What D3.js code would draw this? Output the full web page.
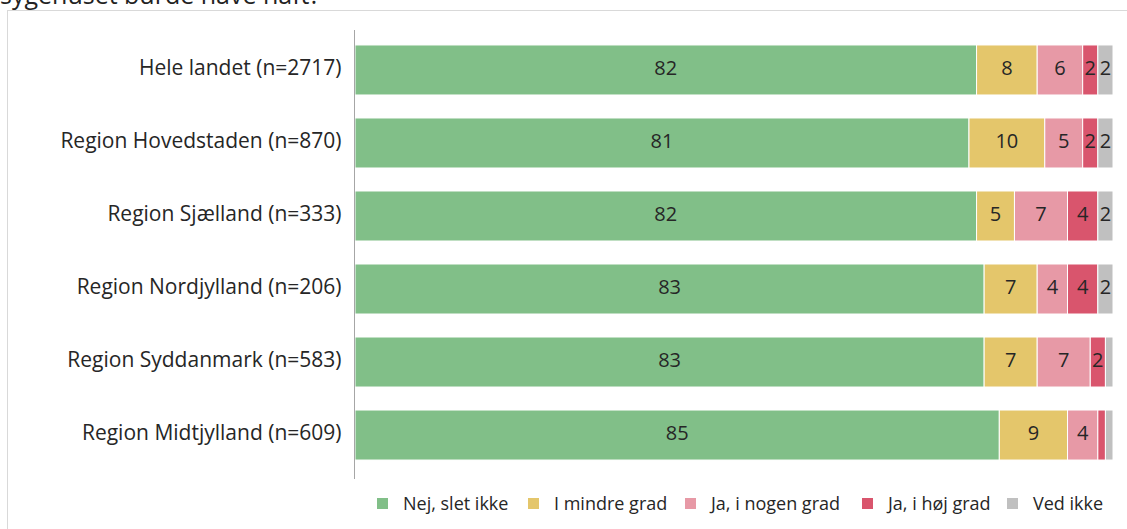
<!DOCTYPE html>
<html>
<head>
<meta charset="utf-8">
<script src="https://cdn.jsdelivr.net/npm/d3@7"></script>
<style>
  body { margin: 0; background: #fff; }
  svg { display: block; font-family: "Open Sans", sans-serif; }
</style>
</head>
<body>
<div id="chart"></div>
<script>
var categories = ["Hele landet (n=2717)", "Region Hovedstaden (n=870)", "Region Sjælland (n=333)",
                  "Region Nordjylland (n=206)", "Region Syddanmark (n=583)", "Region Midtjylland (n=609)"];
var seriesNames = ["Nej, slet ikke", "I mindre grad", "Ja, i nogen grad", "Ja, i høj grad", "Ved ikke"];
var nejSletIkke = [82, 81, 82, 83, 83, 85];
var iMindreGrad = [8, 10, 5, 7, 7, 9];
var jaINogenGrad = [6, 5, 7, 4, 7, 4];
var jaIHoejGrad = [2, 2, 4, 4, 2, 1];
var vedIkke = [2, 2, 2, 2, 1, 1];
var colors = ["#81bf88", "#e4c66b", "#e799a6", "#d9556d", "#c0c0c0"];

var width = 1127, height = 529;
var margin = { top: 30, right: 14, bottom: 54, left: 355 };

var seriesValues = [nejSletIkke, iMindreGrad, jaINogenGrad, jaIHoejGrad, vedIkke];
var rows = categories.map(function(c, i) {
  var r = { cat: c };
  seriesNames.forEach(function(s, j) { r[s] = seriesValues[j][i]; });
  return r;
});

var stack = d3.stack().keys(seriesNames)(rows);

var x = d3.scaleLinear().domain([0, 100]).range([margin.left, width - margin.right]);
var y = d3.scaleBand().domain(categories).range([margin.top, height - margin.bottom])
  .paddingInner(0.315).paddingOuter(0.205);

var svg = d3.select("#chart").append("svg")
  .attr("width", width)
  .attr("height", height);

// frame of the chart area
svg.append("rect")
  .attr("x", 7.5).attr("y", 10.5)
  .attr("width", 1200).attr("height", 600)
  .attr("fill", "none").attr("stroke", "#d9d9d9");

// cut-off title
svg.append("text")
  .attr("x", 0).attr("y", 4)
  .attr("font-size", 25)
  .attr("fill", "#222")
  .text("sygehuset burde have haft?");

// bars
var groups = svg.selectAll(".series")
  .data(stack)
  .enter().append("g")
  .attr("class", "series")
  .attr("fill", function(d, i) { return colors[i]; });

groups.selectAll("rect")
  .data(function(d) { return d; })
  .enter().append("rect")
  .attr("x", function(d) { return x(d[0]); })
  .attr("y", function(d) { return y(d.data.cat); })
  .attr("width", function(d) { return x(d[1]) - x(d[0]); })
  .attr("height", y.bandwidth())
  .attr("stroke", "#fff")
  .attr("stroke-width", 1);

// value labels
groups.selectAll("text")
  .data(function(d) { return d.filter(function(p) { return p[1] - p[0] >= 2; }); })
  .enter().append("text")
  .attr("x", function(d) { return (x(d[0]) + x(d[1])) / 2; })
  .attr("y", function(d) { return y(d.data.cat) + y.bandwidth() / 2 - 2; })
  .attr("dy", "0.36em")
  .attr("text-anchor", "middle")
  .attr("fill", "#262626")
  .attr("font-size", 20)
  .text(function(d) { return d[1] - d[0]; });

// Y axis
var yAxis = d3.axisLeft(y).tickSize(0).tickPadding(13);
var ya = svg.append("g")
  .attr("transform", "translate(" + (margin.left - 0.5) + ",0)")
  .call(yAxis);
ya.select(".domain").attr("stroke", "#a6a6a6").attr("d", "M0,30V479");
ya.selectAll("text").attr("font-size", 21).attr("fill", "#262626")
  .attr("dy", "0.26em")
  .attr("font-family", "'Open Sans', sans-serif");

// Legend
var legendX = [377, 528, 685, 862, 1007];
var legend = svg.selectAll(".legend")
  .data(seriesNames)
  .enter().append("g")
  .attr("class", "legend")
  .attr("transform", function(d, i) { return "translate(" + legendX[i] + ",504)"; });
legend.append("rect")
  .attr("x", 0).attr("y", -6)
  .attr("width", 11).attr("height", 11)
  .attr("fill", function(d, i) { return colors[i]; });
legend.append("text")
  .attr("x", 26).attr("dy", "0.36em")
  .attr("font-size", 18)
  .attr("fill", "#262626")
  .text(function(d) { return d; });
</script>
</body>
</html>
